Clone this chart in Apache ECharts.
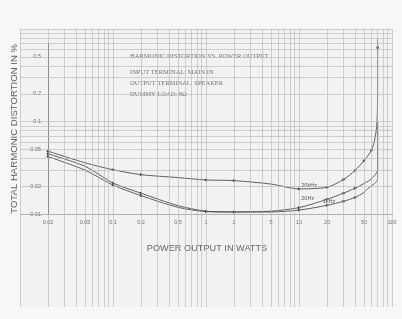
<!DOCTYPE html>
<html>
<head>
<meta charset="utf-8">
<script src="https://cdn.jsdelivr.net/npm/echarts@6/dist/echarts.min.js"></script>
<style>
html,body{margin:0;padding:0;background:#f7f7f7;}
#c{width:402px;height:319px;}
</style>
</head>
<body>
<div id="c"></div>
<script>
// ---- data ----
const xTickValues = [0.02, 0.05, 0.1, 0.2, 0.5, 1, 2, 5, 10, 20, 50, 100];
const yTickValues = [0.01, 0.02, 0.05, 0.1, 0.2, 0.5];

const power20k = [0.02, 0.05, 0.1, 0.2, 0.5, 1, 2, 5, 10, 20, 30, 40, 50, 60, 66, 69, 70, 70, 70];
const thd20k   = [0.048, 0.036, 0.0303, 0.0268, 0.0249, 0.0235, 0.0231, 0.0212, 0.0188, 0.0196, 0.0237, 0.0297, 0.0379, 0.049, 0.068, 0.1, 0.2, 0.63, 0.79];
const dots20k  = [1, 0, 1, 1, 0, 1, 1, 0, 1, 1, 1, 1, 1, 1, 0, 0, 0, 1, 0];

const power20 = [0.02, 0.05, 0.1, 0.2, 0.5, 1, 2, 5, 10, 20, 30, 40, 50, 58, 65, 70, 70];
const thd20   = [0.045, 0.033, 0.0218, 0.0169, 0.0124, 0.0108, 0.0106, 0.0108, 0.0118, 0.0145, 0.0169, 0.0191, 0.0215, 0.0235, 0.0262, 0.03, 0.1];
const dots20  = [1, 0, 1, 1, 0, 1, 1, 0, 1, 1, 1, 1, 0, 0, 0, 0, 0];

const power1k = [0.02, 0.05, 0.1, 0.2, 0.5, 1, 2, 5, 10, 20, 30, 40, 50, 55, 65, 70, 70];
const thd1k   = [0.042, 0.030, 0.0207, 0.0159, 0.0119, 0.0107, 0.0106, 0.0106, 0.0111, 0.0125, 0.0138, 0.0152, 0.0172, 0.019, 0.0215, 0.024, 0.1];
const dots1k  = [1, 0, 1, 1, 0, 1, 1, 0, 1, 1, 1, 1, 0, 0, 0, 0, 0];

const infoLines = ['HARMONIC DISTORTION VS. POWER OUTPUT', 'INPUT TERMINAL: MAIN IN', 'OUTPUT TERMINAL: SPEAKER', 'DUMMY LOAD: 8Ω'];

// ---- graph paper lines (log cycles) ----
const paperX = [];
for (let k = -2; k <= 1; k++) for (let m = 1; m <= 9; m++) paperX.push(+(m * Math.pow(10, k)).toPrecision(3));
paperX.push(100);
const paperY = [];
for (let k = -3; k <= -1; k++) for (let m = 1; m <= 9; m++) paperY.push(+(m * Math.pow(10, k)).toPrecision(3));
paperY.push(1);

const fmt = v => String(parseFloat((+v).toPrecision(6)));
const lineColor = '#454545';

function curve(name, xs, ys, dots, labelIdx, labelPos, labelOffset) {
  return {
    name: name, type: 'line', xAxisIndex: 1, yAxisIndex: 1,
    data: xs.map((x, i) => [x, ys[i]]),
    smooth: 0.25, clip: false,
    symbol: 'circle',
    symbolSize: (v, p) => dots[p.dataIndex] ? 2.6 : 0,
    itemStyle: { color: lineColor },
    lineStyle: { color: lineColor, width: 0.85 },
    label: {
      show: true, position: labelPos, offset: labelOffset, distance: 1,
      fontSize: 5.5, color: '#555', fontFamily: 'Liberation Sans',
      formatter: p => p.dataIndex === labelIdx ? name : ''
    },
    animation: false, silent: true
  };
}

const chart = echarts.init(document.getElementById('c'), null, { renderer: 'canvas' });
chart.setOption({
  backgroundColor: '#f7f7f7',
  animation: false,
  grid: [
    { left: 20, right: 10, top: 29, bottom: 12, show: true, backgroundColor: '#f2f2f2', borderWidth: 0 },
    { left: 48, right: 10, top: 43.4, bottom: 104.7 }
  ],
  xAxis: [
    { type: 'log', gridIndex: 0, min: 0.01, max: 100, axisLine: { show: false }, axisTick: { show: false }, axisLabel: { show: false }, splitLine: { show: false } },
    { type: 'log', gridIndex: 1, min: 0.02, max: 100,
      axisLine: { show: true, lineStyle: { color: '#555', width: 1 } },
      axisTick: { show: false },
      splitLine: { show: false },
      axisLabel: { customValues: xTickValues, formatter: fmt, fontSize: 5.5, color: '#707070', fontFamily: 'Liberation Sans', margin: 5, showMinLabel: true, showMaxLabel: true } }
  ],
  yAxis: [
    { type: 'log', gridIndex: 0, min: 0.001, max: 1, axisLine: { show: false }, axisTick: { show: false }, axisLabel: { show: false }, splitLine: { show: false } },
    { type: 'log', gridIndex: 1, min: 0.01, max: 0.7,
      axisLine: { show: true, lineStyle: { color: '#555', width: 1 } },
      axisTick: { show: false },
      splitLine: { show: false },
      axisLabel: { customValues: yTickValues, formatter: fmt, fontSize: 5.5, color: '#707070', fontFamily: 'Liberation Sans', margin: 7 },
      name: 'TOTAL HARMONIC DISTORTION IN %', nameLocation: 'middle', nameGap: 29,
      nameTextStyle: { fontSize: 9.6, color: '#626262', fontFamily: 'Liberation Sans' } }
  ],
  series: [
    {
      type: 'line', xAxisIndex: 0, yAxisIndex: 0, data: [[0.01, 0.001]], symbol: 'none', silent: true,
      lineStyle: { width: 0 },
      markLine: {
        silent: true, symbol: ['none', 'none'], label: { show: false }, animation: false,
        lineStyle: { type: 'solid', color: '#b4b4b4', width: 0.6 },
        data: paperX.map(v => ({ xAxis: v })).concat(paperY.map(v => ({ yAxis: v })))
      }
    },
    curve('20kHz', power20k, thd20k, dots20k, 8, 'right', [0, -3]),
    curve('20Hz', power20, thd20, dots20, 8, 'right', [0, -9]),
    curve('1kHz', power1k, thd1k, dots1k, 9, 'top', [2, 1])
  ],
  graphic: [
    { type: 'text', left: 130, top: 53, style: { text: infoLines[0], fontSize: 6.5, fill: '#757575', fontFamily: 'Liberation Serif' } },
    { type: 'text', left: 130, top: 69, style: { text: infoLines[1], fontSize: 6.5, fill: '#757575', fontFamily: 'Liberation Serif' } },
    { type: 'text', left: 130, top: 80, style: { text: infoLines[2], fontSize: 6.5, fill: '#757575', fontFamily: 'Liberation Serif' } },
    { type: 'text', left: 130, top: 90.5, style: { text: infoLines[3], fontSize: 6.5, fill: '#757575', fontFamily: 'Liberation Serif' } },
    { type: 'text', x: 207, y: 248, style: { text: 'POWER OUTPUT IN WATTS', fontSize: 9.2, fill: '#666', fontFamily: 'Liberation Sans', align: 'center', verticalAlign: 'middle' } }
  ]
});
</script>
</body>
</html>
